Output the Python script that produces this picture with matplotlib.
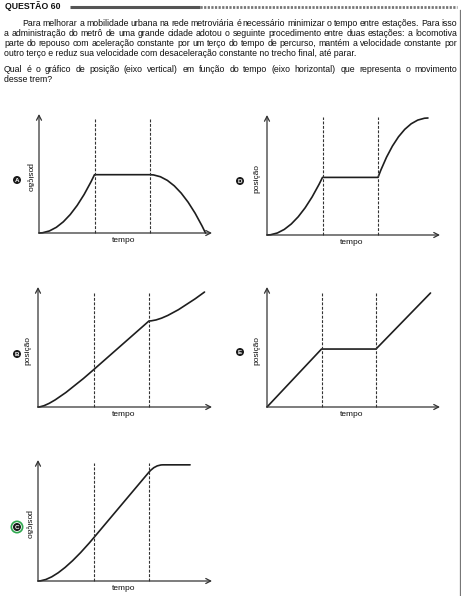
import matplotlib
matplotlib.use("Agg")
import matplotlib.pyplot as plt
from matplotlib.path import Path
from matplotlib.patches import PathPatch, Circle

W, H = 461, 596
FONT = ["Liberation Sans", "DejaVu Sans"]
plt.rcParams['font.family'] = FONT

# ---------------- text content ----------------
title = "QUESTÃO 60"
paragraph = [
    "Para melhorar a mobilidade urbana na rede metroviária é necessário minimizar o tempo entre estações. Para isso",
    "a administração do metrô de uma grande cidade adotou o seguinte procedimento entre duas estações: a locomotiva",
    "parte do repouso com aceleração constante por um terço do tempo de percurso, mantém a velocidade constante por",
    "outro terço e reduz sua velocidade com desaceleração constante no trecho final, até parar.",
]
question = [
    "Qual é o gráfico de posição (eixo vertical) em função do tempo (eixo horizontal) que representa o movimento",
    "desse trem?",
]
xlabel = "tempo"
ylabel = "posição"

# ---------------- chart data (t in thirds of trip, position normalised) ----------------
M, C3, L = Path.MOVETO, Path.CURVE3, Path.LINETO
dash_t = [1, 2]

A_t = [0, 0.5, 1, 2, 2.5, 3]
A_pos = [0, 0, 0.49, 0.49, 0.49, 0]
A_codes = [M, C3, C3, L, C3, C3]

D_t = [0, 0.5, 1, 2, 2.4, 2.9]
D_pos = [0, 0, 0.48, 0.48, 0.975, 0.975]
D_codes = [M, C3, C3, L, C3, C3]

B_t = [0, 0.24, 1, 2, 2.3, 3]
B_pos = [0, 0, 0.31, 0.717, 0.717, 0.958]
B_codes = [M, C3, C3, L, C3, C3]

E_t = [0, 1, 2, 3]
E_pos = [0, 0.483, 0.483, 0.95]
E_codes = [M, L, L, L]

C_t = [0, 0.35, 1, 2, 2.11, 2.25, 2.74]
C_pos = [0, 0, 0.355, 0.9, 0.96, 0.96, 0.96]
C_codes = [M, C3, C3, L, C3, C3, L]

letters = ["A", "D", "B", "E", "C"]

# ---------------- layout (pixels) ----------------
panels = [
    # letter, t, pos, codes, ox, oy, ytop, xend, unit, ylabel rotation, dash top
    ("A", A_t, A_pos, A_codes, 39, 233, 114, 212, 55.5, -90, 0.97),
    ("D", D_t, D_pos, D_codes, 267, 235, 115, 440, 55.5, 90, 0.985),
    ("B", B_t, B_pos, B_codes, 38, 407, 287, 212, 55.5, 90, 0.96),
    ("E", E_t, E_pos, E_codes, 267, 407, 287, 440, 54.5, 90, 0.95),
    ("C", C_t, C_pos, C_codes, 38, 581, 460, 212, 55.5, -90, 0.975),
]
circ_pos = {"A": (17, 180), "D": (240, 181), "B": (17, 354), "E": (240, 352), "C": (17, 527)}

fig = plt.figure(figsize=(W / 100, H / 100), dpi=100)
fig.patch.set_facecolor("white")

bg = fig.add_axes([0, 0, 1, 1])
bg.set_xlim(0, W)
bg.set_ylim(H, 0)
bg.axis("off")

TXT = "#101010"

def fx(x):
    return x / W

def fy(y):
    return 1 - y / H

renderer = fig.canvas.get_renderer()

def measure(s, fs, weight="normal"):
    t = fig.text(0, 0, s, fontsize=fs, fontweight=weight)
    w = t.get_window_extent(renderer).width
    t.remove()
    return w

def justify(line, x0, x1, y, fs):
    words = line.split(" ")
    widths = [measure(w, fs) for w in words]
    gap = (x1 - x0 - sum(widths)) / (len(words) - 1)
    x = x0
    for w, wd in zip(words, widths):
        fig.text(fx(x), fy(y), w, fontsize=fs, va="center", ha="left", color=TXT)
        x += wd + gap

# font size so the longest line nearly fills the width
ref_w = measure(paragraph[1], 10)
FS = 10 * 451 / ref_w

# title + rule
fig.text(fx(5), fy(6.5), title, fontsize=FS, fontweight="bold", va="center", color=TXT)
bg.plot([70, 200], [6.5, 6.5], color="#555555", lw=2.2, solid_capstyle="butt")
bg.plot([200, 457], [6.5, 6.5], color="#777777", lw=2.0, ls=(0, (0.8, 0.5)))
bg.plot([460.3, 460.3], [10, H], color="#777777", lw=0.9)

# paragraph
para_y = [24, 34, 43.5, 53]
justify(paragraph[0], 22, 457, para_y[0], FS)
justify(paragraph[1], 4, 457, para_y[1], FS)
justify(paragraph[2], 4, 457, para_y[2], FS)
fig.text(fx(4), fy(para_y[3]), paragraph[3], fontsize=FS, va="center", color=TXT)
justify(question[0], 4, 457, 69.5, FS)
fig.text(fx(4), fy(79), question[1], fontsize=FS, va="center", color=TXT)

# panels
for letter, t, pos, codes, ox, oy, ytop, xend, unit, rot, dtop in panels:
    xmax = (xend - ox) / unit
    ax = fig.add_axes([fx(ox), fy(oy), (xend - ox) / W, (oy - ytop) / H])
    ax.set_xlim(0, xmax)
    ax.set_ylim(0, 1)
    ax.axis("off")
    ax.patch.set_alpha(0)
    arr = dict(arrowstyle="->,head_length=0.35,head_width=0.18", color="#333333", lw=0.9,
               shrinkA=0, shrinkB=0)
    ax.annotate("", xy=(1, 0), xytext=(0, 0), xycoords="axes fraction", arrowprops=arr,
                annotation_clip=False)
    ax.annotate("", xy=(0, 1), xytext=(0, 0), xycoords="axes fraction", arrowprops=arr,
                annotation_clip=False)
    for d in dash_t:
        ax.plot([d, d], [0, dtop], color="#333333", lw=0.8, ls=(0, (2.6, 1.4)), clip_on=False)
    path = Path(list(zip(t, pos)), codes)
    ax.add_patch(PathPatch(path, fc="none", ec="#1e1e1e", lw=1.2, capstyle="round",
                           joinstyle="round", clip_on=False))
    fig.text(fx(ox + (xend - ox) * 0.49), fy(oy + 8), xlabel, fontsize=6.0, ha="center",
             va="center", color=TXT)
    fig.text(fx(ox - 10), fy(oy - (oy - ytop) * 0.47), ylabel, fontsize=6.0, rotation=rot,
             ha="center", va="center", color=TXT)
    cx, cy = circ_pos[letter]
    if letter == "C":
        bg.add_patch(Circle((cx, cy), 6.5, fc="#2fa84f", ec="none"))
        bg.add_patch(Circle((cx, cy), 4.8, fc="white", ec="none"))
    bg.add_patch(Circle((cx, cy), 4.0, fc="#1a1a1a", ec="none"))
    bg.text(cx, cy + 0.2, letter, fontsize=4.5, fontweight="bold", color="white",
            ha="center", va="center")

fig.savefig("out.png", dpi=100)
